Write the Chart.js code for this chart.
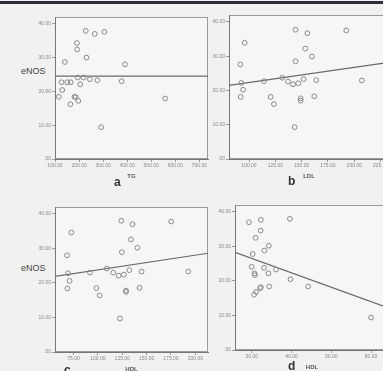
<!DOCTYPE html>
<html>
<head>
<meta charset="utf-8">
<script src="https://cdn.jsdelivr.net/npm/chart.js@4.4.1/dist/chart.umd.min.js"></script>
<style>
    body { margin: 0; width: 383px; height: 371px; overflow: hidden; background: #f1f1f1; position: relative; font-family: "Liberation Sans", Arial, sans-serif; }
    .topbar { position: absolute; left: 0; top: 1px; width: 383px; height: 3px; background: #2b2f3a; }
    .box { position: absolute; }
    .tag { position: absolute; font-weight: bold; font-size: 12px; color: #333; }
    .ylab { position: absolute; font-size: 9px; color: #444; }
</style>
</head>
<body>
<div class="topbar"></div>
<div class="ylab" style="left:21px; top:66px;">eNOS</div>
<div class="ylab" style="left:21px; top:263px;">eNOS</div>

<div class="box" style="left:20px; top:12px; width:193px; height:169px;"><canvas id="chartA"></canvas></div>
<div class="box" style="left:194px; top:10px; width:200px; height:171px;"><canvas id="chartB"></canvas></div>
<div class="box" style="left:20px; top:202px; width:193px; height:172px;"><canvas id="chartC"></canvas></div>
<div class="box" style="left:200px; top:200px; width:194px; height:172px;"><canvas id="chartD"></canvas></div>

<div class="tag" style="left:114px; top:175px;">a</div>
<div class="tag" style="left:288px; top:174px;">b</div>
<div class="tag" style="left:64px; top:363px;">c</div>
<div class="tag" style="left:288px; top:359px;">d</div>

<script>
// panel a: TG vs eNOS
const tgValues = [228, 265, 305, 191, 192, 231, 141, 391, 195, 219, 245, 276, 377, 127, 151, 165, 205, 130, 116, 181, 186, 197, 164, 292, 558];
const enosA = [37.9, 37.0, 37.6, 34.3, 32.4, 30.0, 28.7, 28.0, 24.1, 24.1, 23.6, 23.3, 23.0, 22.7, 22.7, 22.7, 22.1, 20.4, 18.4, 18.4, 18.3, 17.2, 16.2, 9.4, 17.9];
const fitA = [24.5, 24.5];

// panel b: LDL vs eNOS
const ldlValues = [144.3, 155.4, 192.4, 95.9, 153.5, 159.8, 91.8, 144.3, 92.8, 94.4, 92.1, 114.2, 120.6, 123.7, 131.6, 137.0, 141.8, 146.8, 151.9, 163.9, 149.1, 149.1, 162.0, 143.4, 207.2];
const enosB = [37.7, 36.7, 37.5, 33.9, 32.2, 29.9, 27.6, 28.5, 22.2, 20.2, 18.1, 22.7, 18.1, 16.0, 23.7, 22.6, 21.8, 22.1, 23.3, 23.0, 17.7, 17.0, 18.3, 9.3, 22.9];
const fitB = [21.5, 28.2];

// panel c: HDL vs eNOS
const hdlValues = [124, 135.5, 175.2, 72.7, 133.9, 140.5, 68.4, 124.6, 69.4, 71, 68.7, 91.9, 98.5, 101.8, 109.1, 115.7, 121.3, 126.6, 132.2, 144.8, 128.9, 128.9, 142.8, 122.6, 192.7];
const enosC = [38.0, 37.0, 37.8, 34.6, 32.6, 30.2, 28.0, 28.9, 22.8, 20.6, 18.4, 23.0, 18.5, 16.4, 24.2, 23.0, 22.1, 22.4, 23.7, 23.3, 17.8, 17.4, 18.6, 9.7, 23.3];
const fitC = [21.9, 28.6];

// panel d: HDL vs eNOS
const hdl2Values = [29.3, 32.3, 39.6, 32.25, 31, 34.3, 30.25, 33.2, 30, 30.7, 30.8, 33.1, 34.2, 36.1, 39.75, 30.6, 31.1, 32.1, 32.3, 34.4, 44.2, 60];
const enosD = [37.0, 37.7, 38.0, 34.6, 32.5, 30.2, 27.8, 28.8, 24.1, 22.2, 21.7, 23.8, 22.2, 23.3, 20.5, 16.0, 16.8, 17.9, 18.2, 18.4, 18.4, 9.4];
const fitD = [28.3, 12.1];

const frame = {
    id: 'frame',
    beforeDraw(chart) {
        const a = chart.chartArea, c = chart.ctx;
        c.save();
        c.fillStyle = '#f6f6f6';
        c.fillRect(a.left, a.top, a.right - a.left, a.bottom - a.top);
        c.strokeStyle = '#9a9a9a';
        c.lineWidth = 1;
        c.strokeRect(a.left + 0.5, a.top + 0.5, a.right - a.left - 1, a.bottom - a.top - 1);
        c.restore();
    }
};

function fmt(v) {
    return v === 0 ? '.00' : v.toFixed(2);
}

function makeChart(id, xs, ys, fit, xr, title) {
    const pts = xs.map((x, i) => ({ x: x, y: ys[i] }));
    const tickFont = { size: 5, family: 'Liberation Sans' };
    new Chart(document.getElementById(id), {
        type: 'scatter',
        data: {
            datasets: [{
                data: pts,
                pointRadius: 2.4,
                pointBackgroundColor: 'rgba(0,0,0,0)',
                pointBorderColor: '#8a8a8a',
                pointBorderWidth: 1
            }, {
                type: 'line',
                data: [{ x: xr.min, y: fit[0] }, { x: xr.max, y: fit[1] }],
                borderColor: '#6a6a6a',
                borderWidth: 1.2,
                pointRadius: 0
            }]
        },
        options: {
            animation: false,
            responsive: true,
            maintainAspectRatio: false,
            layout: { padding: 0 },
            plugins: { legend: { display: false }, tooltip: { enabled: false } },
            scales: {
                x: {
                    type: 'linear',
                    min: xr.min,
                    max: xr.max,
                    afterFit: s => { s.height = 22; },
                    grid: { drawOnChartArea: false, tickLength: 3, color: '#999' },
                    border: { color: '#777' },
                    ticks: { stepSize: xr.step, includeBounds: false, maxRotation: 0, autoSkip: false, font: tickFont, color: '#888', padding: 1, callback: fmt },
                    title: { display: true, text: title, font: { size: 6, weight: 'bold' }, color: '#555', padding: 1 }
                },
                y: {
                    min: 0,
                    max: 42,
                    afterFit: s => { s.width = 35; },
                    grid: { drawOnChartArea: false, tickLength: 3, color: '#999' },
                    border: { color: '#777' },
                    ticks: { stepSize: 10, includeBounds: false, font: tickFont, color: '#888', padding: 1, callback: fmt }
                }
            }
        },
        plugins: [frame]
    });
}

makeChart('chartA', tgValues, enosA, fitA, { min: 100, max: 736, step: 100 }, 'TG');
makeChart('chartB', ldlValues, enosB, fitB, { min: 81, max: 233, step: 25 }, 'LDL');
makeChart('chartC', hdlValues, enosC, fitC, { min: 56, max: 213, step: 25 }, 'HDL');
makeChart('chartD', hdl2Values, enosD, fitD, { min: 25.8, max: 64.5, step: 10 }, 'HDL');
</script>
</body>
</html>
